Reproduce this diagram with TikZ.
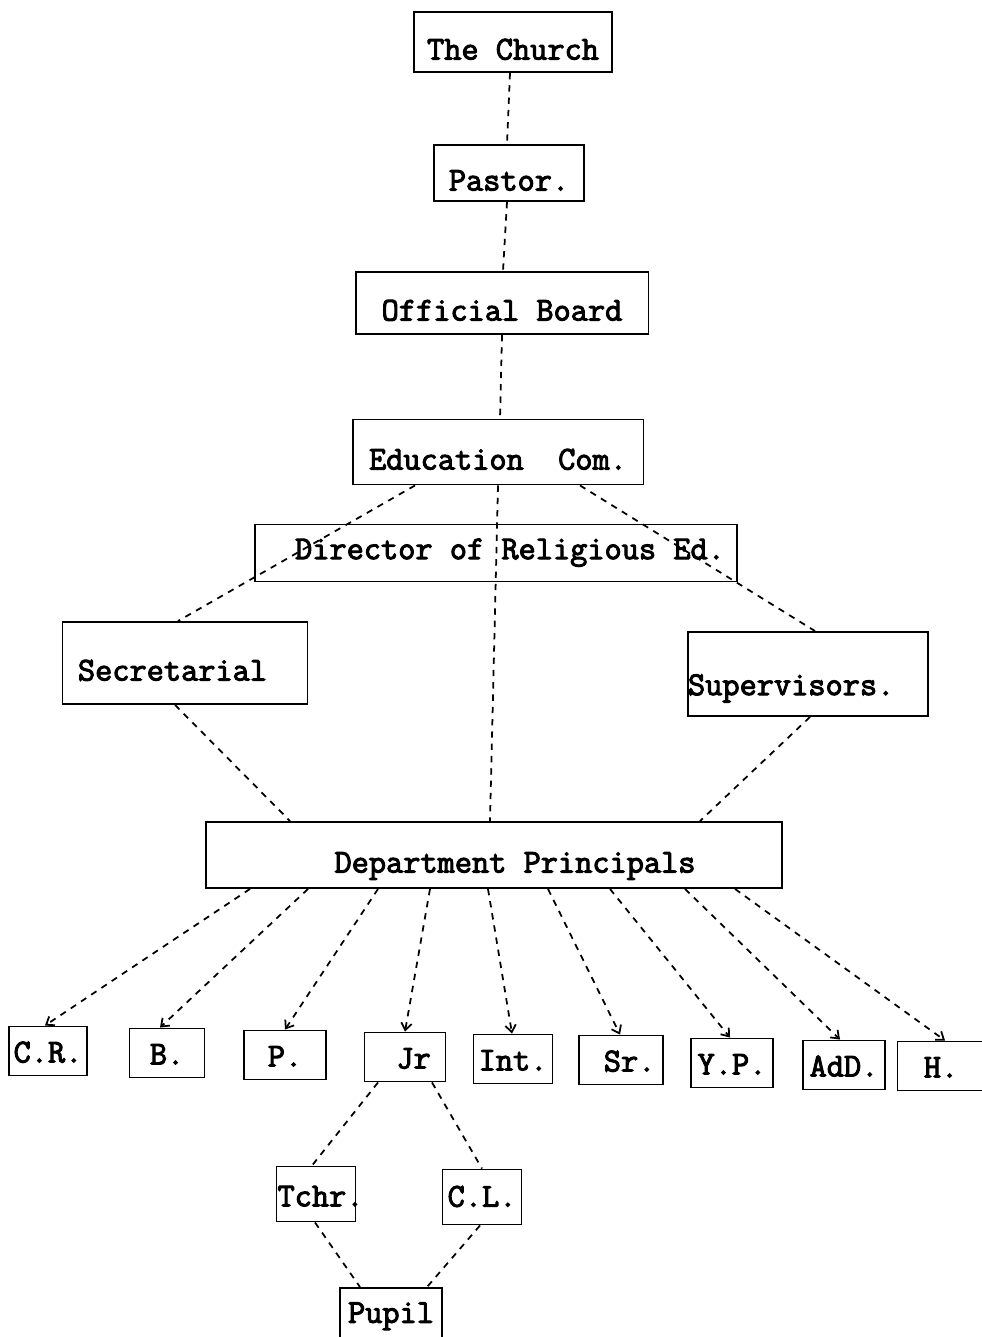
\documentclass[tikz,border=0pt]{standalone}
\usepackage{fontspec}
\usepackage{tikz}
\usetikzlibrary{arrows.meta,positioning}
\newfontfamily\typewr{Latin Modern Mono}[AutoFakeBold=3]

\begin{document}
\begin{tikzpicture}[
      x=0.02cm, y=-0.02cm,
      mybox/.style={
         rectangle,
         draw=black,
         line width=1.1pt,
         inner sep=1pt,
         text height=20pt,
         text depth=0pt,
         font=\fontsize{19}{21}\selectfont\typewr\bfseries},
      smallbox/.style={mybox, minimum width=1.6cm, minimum height=0.98cm,
         text height=13pt},
      myline/.style={line width=1pt, dash pattern=on 3.6pt off 3.4pt},
      myarrow/.style={myline, -{Straight Barb[length=4pt,width=6pt]}}
      ]
\useasboundingbox (0,0) rectangle (981,1337);

\node[mybox, minimum width=3.96cm, minimum height=1.2cm ] (church) at (513,42)  {The Church};
\node[mybox, minimum width=3.0cm,  minimum height=1.12cm] (pastor) at (509,173) {Pastor.};
\node[mybox, minimum width=5.86cm, minimum height=1.24cm] (board)  at (502,303) {Official Board};
\node[mybox, minimum width=5.82cm, minimum height=1.3cm ] (edu)    at (498,452) {Education~~Com.};
\node[mybox, minimum width=9.66cm, minimum height=1.14cm,
      text height=7pt] (dir) at (496,553) {\hspace*{0.56cm}Director of Religious Ed.};

\node[mybox, minimum width=4.9cm, minimum height=1.64cm] (sec) at (185,663) {Secretarial\hspace*{0.5cm}};
\node[mybox, text width=4.8cm, align=left, inner xsep=0cm,
      minimum height=1.68cm, text height=24pt] (sup) at (808,674) {Supervisors.};

\node[mybox, minimum width=11.54cm, minimum height=1.32cm] (dp) at (494,855) {\hspace*{0.84cm}Department Principals};

% departments
\node[smallbox,minimum width=1.56cm] (cr)  at (48,1051)  {C.R.};
\node[smallbox,minimum width=1.5cm ] (b)   at (167,1053) {B.};
\node[smallbox,minimum width=1.64cm] (p)   at (285,1055) {P.};
\node[smallbox,minimum width=1.62cm] (jr)  at (405,1057) {~Jr};
\node[smallbox,minimum width=1.58cm] (int) at (513,1059) {Int.};
\node[smallbox,minimum width=1.68cm] (sr)  at (621,1060) {~Sr.};
\node[smallbox,minimum width=1.64cm] (yp)  at (732,1063) {Y.P.};
\node[smallbox,minimum width=1.64cm] (ad)  at (844,1065) {AdD.};
\node[smallbox,minimum width=1.74cm] (h)   at (941,1066) {H.~};

\node[mybox, text width=1.54cm, align=center, inner xsep=0.02cm,
      minimum height=1.1cm, text height=14pt] (tchr) at (316,1194) {Tchr.};
\node[mybox, minimum width=1.58cm, minimum height=1.1cm, text height=11pt] (cl) at (482,1197) {C.L.};
\node[mybox, minimum width=2.04cm, minimum height=1.04cm, text height=10pt] (pupil) at (391,1314) {Pupil};

\foreach \i/\a/\j/\b in {% start node/x, end node/x
      church/510/pastor/507, pastor/507/board/503, board/502/edu/500,
      edu/415/sec/178, edu/498/dp/490, edu/580/sup/815,
      sec/175/dp/290, sup/810/dp/700,
      jr/378/tchr/312, jr/432/cl/482,
      tchr/315/pupil/360, cl/480/pupil/427}
       \draw[myline] (\i.south -| \a,0) -- (\j.north -| \b,0);

\foreach \j/\a/\b in {% end node/start x/end x
      cr/250/45, b/308/160, p/378/285, jr/430/405, int/488/512,
      sr/548/620, yp/610/730, ad/685/840, h/735/945}
       \draw[myarrow] (dp.south -| \a,0) -- (\j.north -| \b,0);

\end{tikzpicture}
\end{document}
